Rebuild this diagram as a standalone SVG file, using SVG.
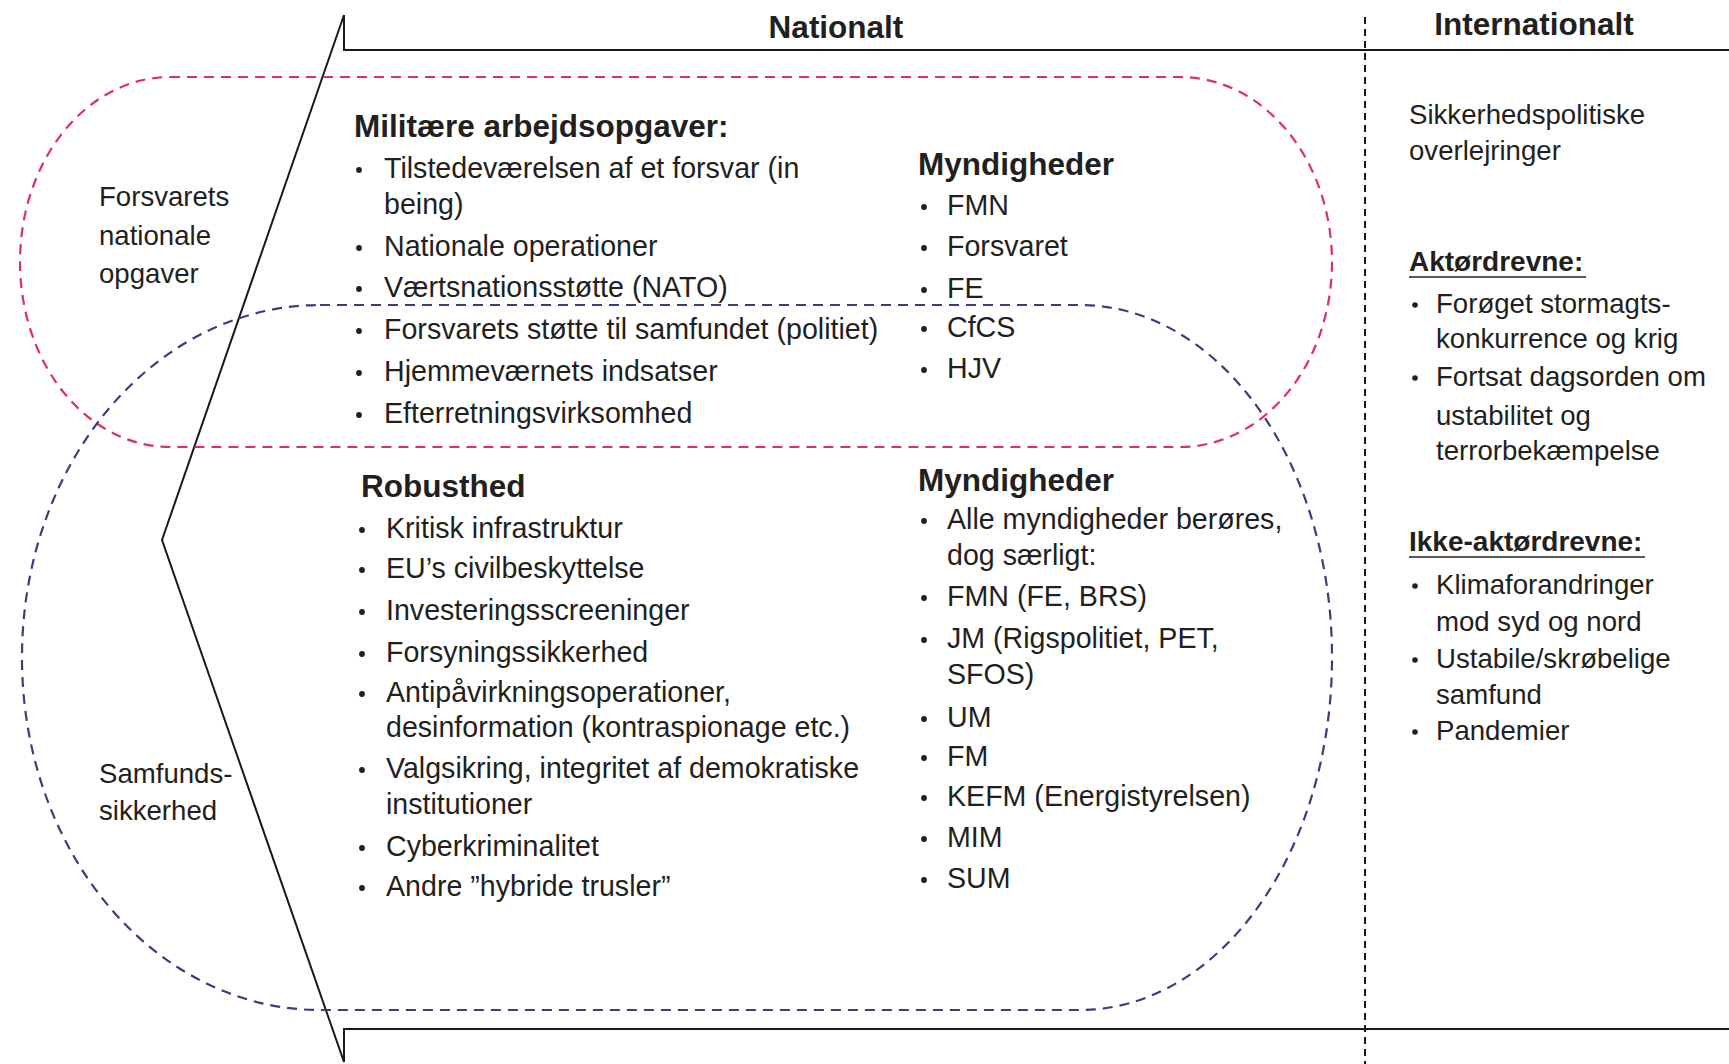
<svg xmlns="http://www.w3.org/2000/svg" width="1729" height="1064" viewBox="0 0 1729 1064">
<style>
  text { font-family: "Liberation Sans", Arial, sans-serif; fill: #231f20; }
  .h { font-weight: bold; font-size: 31.5px; }
  .hs { font-weight: bold; font-size: 28px; }
  .b { font-size: 28.6px; }
  .s { font-size: 27.6px; }
  .dot { fill: #231f20; }
  .frame { fill: none; stroke: #1a1a1a; stroke-width: 2; }
  .sep { fill: none; stroke: #1a1a1a; stroke-width: 2; stroke-dasharray: 7 5; }
  .red { fill: none; stroke: #e0305a; stroke-width: 2.2; stroke-dasharray: 10 7; }
  .blue { fill: none; stroke: #3e3c7a; stroke-width: 2.2; stroke-dasharray: 10 7; }
  .ul { stroke: #231f20; stroke-width: 1.6; }
</style>

<g id="connectors">
  <path class="frame" d="M344,15 L162,540 L344,1062"/>
  <path class="frame" d="M344,15 V50 H1729"/>
  <path class="frame" d="M344,1062 V1029 H1729"/>
  <path class="sep" d="M1365,17 V1064"/>
</g>

<g id="zone-forsvar">
  <path class="red" d="M170,77 H1180 A152,185 0 0 1 1332,262 A152,185 0 0 1 1180,447 H170 A150,185 0 0 1 20,262 A150,185 0 0 1 170,77 Z"/>
</g>

<g id="zone-samfund">
  <path class="blue" d="M320,305 H1080 A252,352 0 0 1 1332,657 A252,352 0 0 1 1080,1010 H320 A298,352 0 0 1 22,657 A298,352 0 0 1 320,305 Z"/>
</g>

<g id="header-nationalt">
  <text class="h" x="836" y="38" text-anchor="middle">Nationalt</text>
</g>

<g id="header-internationalt">
  <text class="h" x="1534" y="35" text-anchor="middle">Internationalt</text>
</g>

<g id="label-forsvar">
  <text class="s" x="99" y="206">Forsvarets</text>
  <text class="s" x="99" y="245">nationale</text>
  <text class="s" x="99" y="283">opgaver</text>
</g>

<g id="label-samfund">
  <text class="s" x="99" y="783">Samfunds-</text>
  <text class="s" x="99" y="820">sikkerhed</text>
</g>

<g id="militaere-opgaver">
  <text class="h" x="354" y="137">Militære arbejdsopgaver:</text>
  <circle class="dot" cx="359" cy="170" r="2.9"/>
  <text class="b" x="384" y="178">Tilstedeværelsen af et forsvar (in</text>
  <text class="b" x="384" y="214">being)</text>
  <circle class="dot" cx="359" cy="248" r="2.9"/>
  <text class="b" x="384" y="256">Nationale operationer</text>
  <circle class="dot" cx="359" cy="289" r="2.9"/>
  <text class="b" x="384" y="297">Værtsnationsstøtte (NATO)</text>
  <circle class="dot" cx="359" cy="331" r="2.9"/>
  <text class="b" x="384" y="339">Forsvarets støtte til samfundet (politiet)</text>
  <circle class="dot" cx="359" cy="373" r="2.9"/>
  <text class="b" x="384" y="381">Hjemmeværnets indsatser</text>
  <circle class="dot" cx="359" cy="415" r="2.9"/>
  <text class="b" x="384" y="423">Efterretningsvirksomhed</text>
</g>

<g id="myndigheder-militaer">
  <text class="h" x="918" y="175">Myndigheder</text>
  <circle class="dot" cx="924" cy="207" r="2.9"/>
  <text class="b" x="947" y="215">FMN</text>
  <circle class="dot" cx="924" cy="248" r="2.9"/>
  <text class="b" x="947" y="256">Forsvaret</text>
  <circle class="dot" cx="924" cy="290" r="2.9"/>
  <text class="b" x="947" y="298">FE</text>
  <circle class="dot" cx="924" cy="329" r="2.9"/>
  <text class="b" x="947" y="337">CfCS</text>
  <circle class="dot" cx="924" cy="370" r="2.9"/>
  <text class="b" x="947" y="378">HJV</text>
</g>

<g id="robusthed">
  <text class="h" x="361" y="497">Robusthed</text>
  <circle class="dot" cx="362" cy="530" r="2.9"/>
  <text class="b" x="386" y="538">Kritisk infrastruktur</text>
  <circle class="dot" cx="362" cy="570" r="2.9"/>
  <text class="b" x="386" y="578">EU’s civilbeskyttelse</text>
  <circle class="dot" cx="362" cy="612" r="2.9"/>
  <text class="b" x="386" y="620">Investeringsscreeninger</text>
  <circle class="dot" cx="362" cy="654" r="2.9"/>
  <text class="b" x="386" y="662">Forsyningssikkerhed</text>
  <circle class="dot" cx="362" cy="694" r="2.9"/>
  <text class="b" x="386" y="702">Antipåvirkningsoperationer,</text>
  <text class="b" x="386" y="737">desinformation (kontraspionage etc.)</text>
  <circle class="dot" cx="362" cy="770" r="2.9"/>
  <text class="b" x="386" y="778">Valgsikring, integritet af demokratiske</text>
  <text class="b" x="386" y="814">institutioner</text>
  <circle class="dot" cx="362" cy="848" r="2.9"/>
  <text class="b" x="386" y="856">Cyberkriminalitet</text>
  <circle class="dot" cx="362" cy="888" r="2.9"/>
  <text class="b" x="386" y="896">Andre ”hybride trusler”</text>
</g>

<g id="myndigheder-samfund">
  <text class="h" x="918" y="491">Myndigheder</text>
  <circle class="dot" cx="924" cy="521" r="2.9"/>
  <text class="b" x="947" y="529">Alle myndigheder berøres,</text>
  <text class="b" x="947" y="565">dog særligt:</text>
  <circle class="dot" cx="924" cy="598" r="2.9"/>
  <text class="b" x="947" y="606">FMN (FE, BRS)</text>
  <circle class="dot" cx="924" cy="640" r="2.9"/>
  <text class="b" x="947" y="648">JM (Rigspolitiet, PET,</text>
  <text class="b" x="947" y="684">SFOS)</text>
  <circle class="dot" cx="924" cy="719" r="2.9"/>
  <text class="b" x="947" y="727">UM</text>
  <circle class="dot" cx="924" cy="758" r="2.9"/>
  <text class="b" x="947" y="766">FM</text>
  <circle class="dot" cx="924" cy="798" r="2.9"/>
  <text class="b" x="947" y="806">KEFM (Energistyrelsen)</text>
  <circle class="dot" cx="924" cy="839" r="2.9"/>
  <text class="b" x="947" y="847">MIM</text>
  <circle class="dot" cx="924" cy="880" r="2.9"/>
  <text class="b" x="947" y="888">SUM</text>
</g>

<g id="international">
  <text class="s" x="1409" y="124">Sikkerhedspolitiske</text>
  <text class="s" x="1409" y="160">overlejringer</text>

  <text class="hs" x="1409" y="271">Aktørdrevne:</text>
  <line class="ul" x1="1409" y1="277" x2="1586" y2="277"/>
  <circle class="dot" cx="1415" cy="305" r="2.8"/>
  <text class="s" x="1436" y="313">Forøget stormagts-</text>
  <text class="s" x="1436" y="348">konkurrence og krig</text>
  <circle class="dot" cx="1415" cy="378" r="2.8"/>
  <text class="s" x="1436" y="386">Fortsat dagsorden om</text>
  <text class="s" x="1436" y="425">ustabilitet og</text>
  <text class="s" x="1436" y="460">terrorbekæmpelse</text>

  <text class="hs" x="1409" y="551">Ikke-aktørdrevne:</text>
  <line class="ul" x1="1409" y1="557" x2="1645" y2="557"/>
  <circle class="dot" cx="1415" cy="586" r="2.8"/>
  <text class="s" x="1436" y="594">Klimaforandringer</text>
  <text class="s" x="1436" y="631">mod syd og nord</text>
  <circle class="dot" cx="1415" cy="660" r="2.8"/>
  <text class="s" x="1436" y="668">Ustabile/skrøbelige</text>
  <text class="s" x="1436" y="704">samfund</text>
  <circle class="dot" cx="1415" cy="732" r="2.8"/>
  <text class="s" x="1436" y="740">Pandemier</text>
</g>
</svg>
